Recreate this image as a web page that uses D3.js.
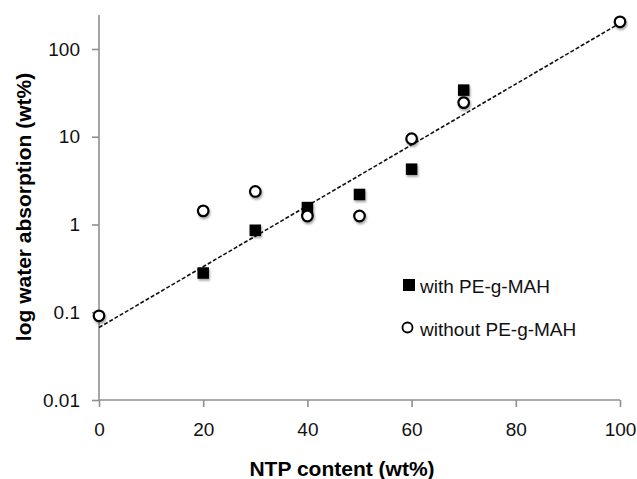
<!DOCTYPE html>
<html>
<head>
<meta charset="utf-8">
<script src="https://cdn.jsdelivr.net/npm/d3@7"></script>
<style>
  html, body { margin: 0; padding: 0; background: #fff; }
  svg { display: block; font-family: "Liberation Sans", Arial, Helvetica, sans-serif; }
</style>
</head>
<body>
<svg id="chart" width="637" height="479"></svg>
<script>
// ---- data ----
const withX = [20, 30, 40, 50, 60, 70];
const withY = [0.28, 0.86, 1.56, 2.2, 4.27, 34];
const withoutX = [0, 20, 30, 40, 50, 60, 70, 100];
const withoutY = [0.091, 1.43, 2.38, 1.25, 1.25, 9.5, 24.5, 204];
const trendX = [0, 100];
const trendY = [0.067, 197];
const xTicks = [0, 20, 40, 60, 80, 100];
const yTicks = [0.01, 0.1, 1, 10, 100];
const yTickLabels = ["0.01", "0.1", "1", "10", "100"];
const seriesNames = ["with PE-g-MAH", "without PE-g-MAH"];
const xTitle = "NTP content (wt%)";
const yTitle = "log water absorption (wt%)";

// ---- layout ----
const svg = d3.select("#chart");
const x = d3.scaleLinear().domain([0, 100]).range([99, 620]);
const y = d3.scaleLog().domain([0.01, 100]).range([400, 49]);
const yTopPx = 15;
const axisColor = "#8f8f8f";

// shadow filter
const defs = svg.append("defs");
const f = defs.append("filter").attr("id", "sh").attr("x", "-50%").attr("y", "-50%").attr("width", "200%").attr("height", "200%");
f.append("feDropShadow").attr("dx", 1).attr("dy", 2).attr("stdDeviation", 1.3)
  .attr("flood-color", "#000").attr("flood-opacity", 0.35);

// x axis
const xAxis = svg.append("g").attr("transform", `translate(0,${y(0.01)})`)
  .call(d3.axisBottom(x).tickValues(xTicks).tickSize(7).tickPadding(16).tickFormat(d3.format("d")));
xAxis.select(".domain").attr("d", `M${x(0)},0H${x(100)}`);
// y axis
const yAxis = svg.append("g").attr("transform", `translate(${x(0)},0)`)
  .call(d3.axisLeft(y).tickValues(yTicks).tickSize(7).tickPadding(12)
    .tickFormat((d, i) => yTickLabels[i]));
yAxis.select(".domain").attr("d", `M0,${yTopPx}V${y(0.01)}`);

[xAxis, yAxis].forEach(g => {
  g.select(".domain").attr("stroke", axisColor).attr("stroke-width", 1.6);
  g.selectAll(".tick line").attr("stroke", axisColor).attr("stroke-width", 1.6);
  g.selectAll(".tick text").attr("fill", "#111").attr("font-size", 19)
    .attr("font-family", "'Liberation Sans', Arial, sans-serif");
});

// trendline
svg.append("path")
  .datum(trendX.map((d, i) => [d, trendY[i]]))
  .attr("d", d3.line().x(d => x(d[0])).y(d => y(d[1])))
  .attr("fill", "none").attr("stroke", "#111").attr("stroke-width", 1.6)
  .attr("stroke-dasharray", "4,2");

// with PE-g-MAH: filled squares
const sq = 11.5;
svg.append("g").attr("filter", "url(#sh)").selectAll("rect")
  .data(withX.map((d, i) => [d, withY[i]]))
  .join("rect")
  .attr("x", d => x(d[0]) - sq / 2).attr("y", d => y(d[1]) - sq / 2)
  .attr("width", sq).attr("height", sq).attr("fill", "#000");

// without: open circles
svg.append("g").attr("filter", "url(#sh)").selectAll("circle")
  .data(withoutX.map((d, i) => [d, withoutY[i]]))
  .join("circle")
  .attr("cx", d => x(d[0])).attr("cy", d => y(d[1])).attr("r", 5.3)
  .attr("fill", "#fff").attr("stroke", "#000").attr("stroke-width", 2.2);

// legend
const lg = svg.append("g");
lg.append("rect").attr("x", 403).attr("y", 279).attr("width", 12).attr("height", 12).attr("fill", "#000");
lg.append("text").attr("x", 420).attr("y", 293).attr("font-size", 19).attr("fill", "#111").text(seriesNames[0]);
lg.append("circle").attr("cx", 407.5).attr("cy", 327.5).attr("r", 5).attr("fill", "#fff")
  .attr("stroke", "#000").attr("stroke-width", 1.8);
lg.append("text").attr("x", 420).attr("y", 336).attr("font-size", 19).attr("fill", "#111").text(seriesNames[1]);

// axis titles
svg.append("text").attr("x", 342).attr("y", 476).attr("text-anchor", "middle")
  .attr("font-size", 21).attr("font-weight", "bold").attr("fill", "#000").text(xTitle);
svg.append("text").attr("transform", "translate(31,207) rotate(-90)").attr("text-anchor", "middle")
  .attr("font-size", 21).attr("font-weight", "bold").attr("fill", "#000").text(yTitle);
</script>
</body>
</html>
